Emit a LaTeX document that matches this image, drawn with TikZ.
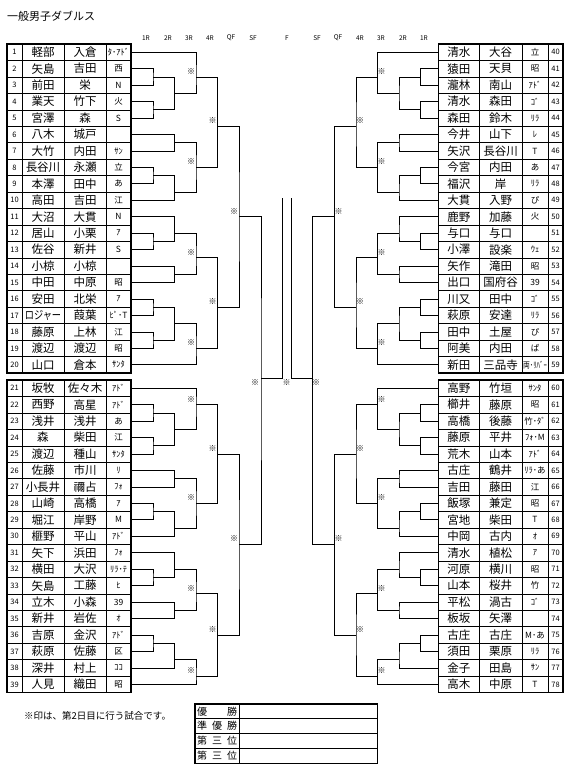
\documentclass[tikz,border=0pt]{standalone}
\usepackage{fontspec}
\setmainfont{Noto Sans CJK JP}
\usepackage{graphicx}
\usetikzlibrary{positioning}

% row number -> y in px (downwards); upper and lower blocks have a gap
\pgfmathdeclarefunction{ry}{1}{%
  \pgfmathparse{#1<20.75 ? 44+(#1-0.5)*16.45 : 380+(#1-20.5)*16.45}}

% one match: output, column x, first entry, second entry, output row
\newcommand\bout[5]{%
  \coordinate (#1) at (#2,{ry(#5)});
  \draw[br] (#3) -| (#1) |- (#4);}
% same match, played on day 2 (mark)
\newcommand\bk[5]{%
  \bout{#1}{#2}{#3}{#4}{#5}
  \node[km] (k#1) at ([xshift=\kx, yshift=5.5pt]#1) {※};}

% one half of the draw, #1 = L or R
\newcommand\halfbr[1]{%
  % -- block 1-5
  \bout{#1a1}{\colA}{#1t2}{#1t3}{2.5}
  \bout{#1a2}{\colA}{#1t4}{#1t5}{4.5}
  \bout{#1b1}{\colB}{#1a1}{#1a2}{3.5}
  \bk{#1c1}{\colC}{#1t1}{#1b1}{2.5}
  % -- block 6-10
  \bout{#1b2}{\colB}{#1t6}{#1t7}{6.5}
  \bout{#1a3}{\colA}{#1t8}{#1t9}{8.5}
  \bout{#1b3}{\colB}{#1a3}{#1t10}{9.5}
  \bk{#1c2}{\colC}{#1b2}{#1b3}{8}
  \bk{#1d1}{\colD}{#1c1}{#1c2}{5.5}
  % -- block 11-15
  \bout{#1a4}{\colA}{#1t12}{#1t13}{12.5}
  \bout{#1b4}{\colB}{#1t11}{#1a4}{12}
  \bout{#1b5}{\colB}{#1t14}{#1t15}{14.5}
  \bk{#1c3}{\colC}{#1b4}{#1b5}{13.5}
  % -- block 16-20
  \bout{#1a5}{\colA}{#1t16}{#1t17}{16.5}
  \bout{#1a6}{\colA}{#1t18}{#1t19}{18.5}
  \bout{#1b6}{\colB}{#1a5}{#1a6}{17.5}
  \bk{#1c4}{\colC}{#1b6}{#1t20}{19}
  \bk{#1d2}{\colD}{#1c3}{#1c4}{16.5}
  \bk{#1e1}{\colE}{#1d1}{#1d2}{11}
  % -- block 21-25
  \bout{#1a7}{\colA}{#1t22}{#1t23}{22.5}
  \bout{#1a8}{\colA}{#1t24}{#1t25}{24.5}
  \bout{#1b7}{\colB}{#1a7}{#1a8}{23.5}
  \bk{#1c5}{\colC}{#1t21}{#1b7}{22}
  % -- block 26-30
  \bout{#1b8}{\colB}{#1t26}{#1t27}{26.5}
  \bout{#1a9}{\colA}{#1t28}{#1t29}{28.5}
  \bout{#1b9}{\colB}{#1a9}{#1t30}{29.5}
  \bk{#1c6}{\colC}{#1b8}{#1b9}{28}
  \bk{#1d3}{\colD}{#1c5}{#1c6}{25}
  % -- block 31-35
  \bout{#1a10}{\colA}{#1t32}{#1t33}{32.5}
  \bout{#1b10}{\colB}{#1t31}{#1a10}{32}
  \bout{#1b11}{\colB}{#1t34}{#1t35}{34.5}
  \bk{#1c7}{\colC}{#1b10}{#1b11}{33.5}
  % -- block 36-39
  \bout{#1a11}{\colA}{#1t36}{#1t37}{36.5}
  \bout{#1b12}{\colB}{#1a11}{#1t38}{37.5}
  \bk{#1c8}{\colC}{#1b12}{#1t39}{38.5}
  \bk{#1d4}{\colD}{#1c7}{#1c8}{36}
  \bk{#1e2}{\colE}{#1d3}{#1d4}{30.5}
  % -- semi final and the line up to the final
  \coordinate (#1sf) at (\colF,378);
  \draw[br] (#1e1) -| (#1sf) |- (#1e2);
  \node[km] (k#1sf) at ([xshift=\ksf, yshift=-5pt]#1sf) {※};
  \coordinate (#1f) at (\colG,198);
  \draw[br] (#1sf) -| (#1f);}

\begin{document}
\begin{tikzpicture}[
  x=1pt, y=-1pt,
  cell/.style  = {draw, line width=0.6pt, inner sep=0pt, minimum height=16.45pt},
  numc/.style  = {cell, minimum width=15pt, font=\fontsize{7.5}{8}\selectfont},
  namec/.style = {cell, font=\fontsize{11.5}{12}\selectfont},
  schc/.style  = {cell, minimum width=25pt, font=\fontsize{8.5}{9}\selectfont},
  br/.style    = {line width=0.75pt},
  frame/.style = {line width=1.1pt},
  km/.style    = {font=\fontsize{8}{8}\selectfont, inner sep=0pt},
  hdr/.style   = {font=\fontsize{6.5}{7}\selectfont, inner sep=0pt},
  rlab/.style  = {draw, line width=0.6pt, inner sep=0pt, minimum width=44pt,
                  minimum height=14.75pt, font=\fontsize{10}{10}\selectfont},
  rval/.style  = {draw, line width=0.6pt, inner sep=0pt, minimum width=138pt,
                  minimum height=14.75pt},
]
\useasboundingbox (0,0) rectangle (575,772);

% ---- title and round headers ------------------------------------------------
\node[anchor=west, inner sep=0pt, font=\fontsize{11}{12}\selectfont] (title) at (7,16)
  {一般男子ダブルス};
\foreach \t/\x [count=\i] in {1R/146, 2R/168, 3R/189, 4R/210, QF/231, SF/253, F/287}
  \node[hdr] (hl\i) at (\x,38) {\t};
\foreach \t/\x [count=\i] in {SF/317, QF/338, 4R/360, 3R/381, 2R/403, 1R/424}
  \node[hdr] (hr\i) at (\x,38) {\t};

% ---- left entries 1-39 --------------------------------------------------------
\foreach \pa/\pb/\sch [count=\i] in {
  軽部/入倉/ﾀ･ｱﾄﾞ, 矢島/吉田/西, 前田/栄/N, 業天/竹下/火, 宮澤/森/S,
  八木/城戸/, 大竹/内田/ｻﾝ, 長谷川/永瀬/立, 本澤/田中/あ, 高田/吉田/江,
  大沼/大貫/N, 居山/小栗/ｱ, 佐谷/新井/S, 小椋/小椋/, 中田/中原/昭,
  安田/北栄/ｱ, \scalebox{0.8}[1]{ロジャー}/葭葉/ﾋﾟ･T, 藤原/上林/江, 渡辺/渡辺/昭, 山口/倉本/ｻﾝﾀ,
  坂牧/佐々木/ｱﾄﾞ, 西野/高星/ｱﾄﾞ, 浅井/浅井/あ, 森/柴田/江, 渡辺/種山/ｻﾝﾀ,
  佐藤/市川/ﾘ, 小長井/禰占/ﾌｫ, 山崎/高橋/ｱ, 堀江/岸野/M, 榧野/平山/ｱﾄﾞ,
  矢下/浜田/ﾌｫ, 横田/大沢/ﾘﾗ･ﾃ, 矢島/工藤/ﾋ, 立木/小森/39, 新井/岩佐/ｵ,
  吉原/金沢/ｱﾄﾞ, 萩原/佐藤/区, 深井/村上/ｺｺ, 人見/織田/昭}{
  \pgfmathsetmacro\yy{ry(\i)}
  \node[numc] (Ln\i) at (14.5,\yy) {\i};
  \node[namec, minimum width=42pt] (La\i) at (43,\yy) {\pa};
  \node[namec, minimum width=42pt] (Lb\i) at (85,\yy) {\pb};
  \node[schc] (Ls\i) at (118.5,\yy) {\sch};
  \coordinate (Lt\i) at (131,\yy);
}
\draw[frame] (7,44) rectangle (131,{ry(20.5)});
\draw[frame] (7,380) rectangle (131,{ry(39.5)});

% ---- right entries 40-78 ------------------------------------------------------
\foreach \pa/\pb/\sch [count=\i] in {
  清水/大谷/立, 猿田/天貝/昭, 瀧林/南山/ｱﾄﾞ, 清水/森田/ｺﾞ, 森田/鈴木/ﾘﾗ,
  今井/山下/ﾚ, 矢沢/長谷川/T, 今宮/内田/あ, 福沢/岸/ﾘﾗ, 大貫/入野/ぴ,
  鹿野/加藤/火, 与口/与口/, 小澤/設楽/ｳｪ, 矢作/滝田/昭, 出口/国府谷/39,
  川又/田中/ｺﾞ, 萩原/安達/ﾘﾗ, 田中/土屋/ぴ, 阿美/内田/ぱ, 新田/三品寺/\scalebox{0.8}[1]{両･ﾘﾊﾞｰ},
  高野/竹垣/ｻﾝﾀ, 櫛井/藤原/昭, 高橋/後藤/竹･ﾀﾞ, 藤原/平井/ﾌｫ･M, 荒木/山本/ｱﾄﾞ,
  古庄/鶴井/ﾘﾗ･あ, 吉田/藤田/江, 飯塚/兼定/昭, 宮地/柴田/T, 中岡/古内/ｵ,
  清水/植松/ｱ, 河原/横川/昭, 山本/桜井/竹, 平松/渦古/ｺﾞ, 板坂/矢澤/,
  古庄/古庄/M･あ, 須田/栗原/ﾘﾗ, 金子/田島/ｻﾝ, 高木/中原/T}{
  \pgfmathsetmacro\yy{ry(\i)}
  \pgfmathtruncatemacro\nn{\i+39}
  \node[namec, minimum width=40.5pt] (Ra\i) at (458.75,\yy) {\pa};
  \node[namec, minimum width=43pt] (Rb\i) at (500.5,\yy) {\pb};
  \node[schc, minimum width=26pt] (Rs\i) at (535,\yy) {\sch};
  \node[numc] (Rn\i) at (555.5,\yy) {\nn};
  \coordinate (Rt\i) at (438.5,\yy);
}
\draw[frame] (438.5,44) rectangle (563,{ry(20.5)});
\draw[frame] (438.5,380) rectangle (563,{ry(39.5)});

% ---- draw, left half then right half ------------------------------------------
\def\colA{153}\def\colB{174.5}\def\colC{196}\def\colD{217.5}
\def\colE{239}\def\colF{261}\def\colG{282}\def\kx{-5pt}\def\ksf{-6pt}
\halfbr{L}
\def\colA{420.5}\def\colB{399}\def\colC{377.5}\def\colD{356}
\def\colE{334.5}\def\colF{312.5}\def\colG{291}\def\kx{4pt}\def\ksf{3.5pt}
\halfbr{R}
% final
\node[km] (kf) at (286.5,383) {※};

% ---- note and result table ----------------------------------------------------
\node[anchor=west, inner sep=0pt, font=\fontsize{9.5}{10}\selectfont] (note) at (24,716)
  {※印は、第2日目に行う試合です。};
\node[rlab] (r1) at (217,711.4) {\makebox[40pt]{優\hfill 勝}};
\node[rlab] (r2) at (217,726.1) {\makebox[40pt]{準\hfill 優\hfill 勝}};
\node[rlab] (r3) at (217,740.9) {\makebox[40pt]{第\hfill 三\hfill 位}};
\node[rlab] (r4) at (217,755.6) {\makebox[40pt]{第\hfill 三\hfill 位}};
\foreach \i in {1,...,4}
  \node[rval, right=0pt of r\i] (v\i) {};
\draw[frame] (r1.north west) rectangle (v4.south east);
\draw[frame] (r1.north east) -- (r4.south east);

\end{tikzpicture}
\end{document}
